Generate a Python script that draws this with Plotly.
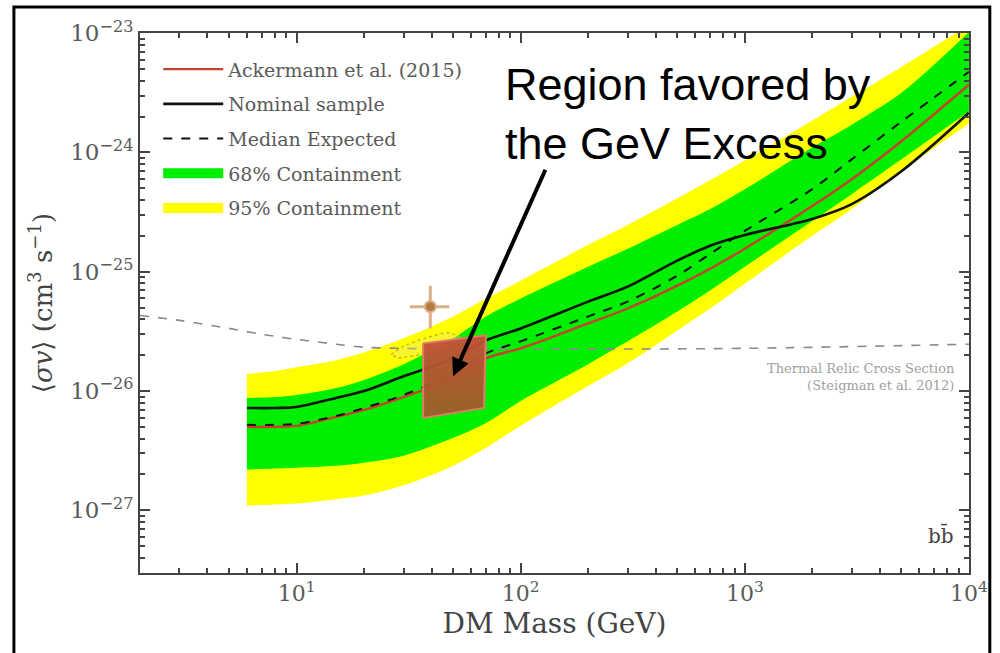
import math
import plotly.graph_objects as go

# ---------------- data ----------------
mass = [6, 8, 10, 15, 20, 30, 50, 70, 100, 200, 300, 500, 700, 1000, 2000, 3000, 5000, 10000]
band95_upper = [1.39e-26, 1.47e-26, 1.58e-26, 1.81e-26, 2.11e-26, 2.77e-26, 4.22e-26, 5.96e-26, 8.41e-26,
                1.68e-25, 2.47e-25, 4.14e-25, 5.85e-25, 8.57e-25, 1.85e-24, 2.93e-24, 5.21e-24, 1.17e-23]
band95_lower = [1.10e-27, 1.12e-27, 1.14e-27, 1.24e-27, 1.33e-27, 1.62e-27, 2.37e-27, 3.35e-27, 5.11e-27,
                1.10e-26, 1.71e-26, 3.22e-26, 4.92e-26, 7.94e-26, 2.00e-25, 3.35e-25, 6.95e-25, 1.75e-24]
band68_upper = [8.75e-27, 8.91e-27, 9.27e-27, 1.06e-26, 1.24e-26, 1.68e-26, 2.77e-26, 4.22e-26, 5.96e-26,
                1.10e-25, 1.56e-25, 2.47e-25, 3.35e-25, 4.92e-25, 1.10e-24, 1.71e-24, 3.16e-24, 1.02e-23]
band68_lower = [2.20e-27, 2.24e-27, 2.28e-27, 2.37e-27, 2.51e-27, 2.87e-27, 4.06e-27, 5.41e-27, 8.26e-27,
                1.68e-26, 2.61e-26, 4.64e-26, 6.95e-26, 1.10e-25, 2.66e-25, 4.47e-25, 8.75e-25, 2.20e-24]
nominal = [7.21e-27, 7.21e-27, 7.36e-27, 8.75e-27, 1.00e-26, 1.33e-26, 1.88e-26, 2.66e-26, 3.35e-26,
           5.62e-26, 7.50e-26, 1.24e-25, 1.65e-25, 2.03e-25, 2.77e-25, 3.69e-25, 6.95e-25, 2.15e-24]
median = [5.21e-27, 5.21e-27, 5.31e-27, 6.19e-27, 7.21e-27, 9.27e-27, 1.41e-26, 2.07e-26, 2.61e-26,
          4.22e-26, 5.62e-26, 9.27e-26, 1.41e-25, 2.20e-25, 4.92e-25, 8.75e-25, 1.81e-24, 4.73e-24]
ackermann = [5.01e-27, 5.01e-27, 5.11e-27, 6.07e-27, 6.95e-27, 8.91e-27, 1.28e-26, 1.88e-26, 2.28e-26,
             3.69e-26, 4.92e-26, 7.64e-26, 1.06e-25, 1.56e-25, 3.55e-25, 5.96e-25, 1.24e-24, 3.69e-24]

thermal_mass = [2, 3, 5, 7, 10, 15, 20, 30, 50, 100, 1000, 10000]
thermal_sigma = [4.30e-26, 3.91e-26, 3.35e-26, 2.99e-26, 2.71e-26, 2.47e-26, 2.33e-26, 2.28e-26,
                 2.24e-26, 2.24e-26, 2.28e-26, 2.47e-26]

# GeV-excess fit contour and best-fit point
contour_mass = [26.4, 29.9, 34.8, 42.8, 47.4, 53.5, 49.9, 42.8, 34.8, 28.4, 26.4]
contour_sigma = [2.03e-26, 2.37e-26, 2.66e-26, 2.99e-26, 3.10e-26, 2.87e-26, 2.47e-26, 2.20e-26,
                 2.00e-26, 1.88e-26, 2.03e-26]
excess_mass = [39.5]
excess_sigma = [5.1e-26]
excess_mass_err_plus = [8.5]
excess_mass_err_minus = [7.5]
excess_sigma_err_plus = [2.54e-26]
excess_sigma_err_minus = [1.75e-26]

# Region favored by the GeV excess (quadrilateral)
region_mass = [36.7, 69.9, 68.5, 36.7, 36.7]
region_sigma = [2.51e-26, 2.93e-26, 7.21e-27, 5.96e-27, 2.51e-26]
arrow_tip_mass = 49.9
arrow_tip_sigma = 1.33e-26

x_tickvals = [10, 100, 1000, 10000]
x_ticktext = ["10<sup>1</sup>", "10<sup>2</sup>", "10<sup>3</sup>", "10<sup>4</sup>"]
y_tickvals = [1e-27, 1e-26, 1e-25, 1e-24, 1e-23]
y_ticktext = ["10<sup>−27</sup>", "10<sup>−26</sup>", "10<sup>−25</sup>", "10<sup>−24</sup>", "10<sup>−23</sup>"]

SERIF = "DejaVu Serif"
GRAY = "#5a5a5a"
SPLINE = dict(shape="spline", smoothing=0.9)
YELLOW = "#ffff00"
GREEN = "#00ee00"

fig = go.Figure()

# 95% band (lower edge, then upper edge filled down to it)
fig.add_trace(go.Scatter(
    x=mass, y=band95_lower, mode="lines", line=dict(width=0, color=YELLOW, **SPLINE),
    showlegend=False, hoverinfo="skip"))
fig.add_trace(go.Scatter(
    x=mass, y=band95_upper, mode="lines", fill="tonexty", fillcolor=YELLOW,
    line=dict(width=0, color=YELLOW, **SPLINE), showlegend=False, hoverinfo="skip"))
# 68% band
fig.add_trace(go.Scatter(
    x=mass, y=band68_lower, mode="lines", line=dict(width=0, color=GREEN, **SPLINE),
    showlegend=False, hoverinfo="skip"))
fig.add_trace(go.Scatter(
    x=mass, y=band68_upper, mode="lines", fill="tonexty", fillcolor=GREEN,
    line=dict(width=0, color=GREEN, **SPLINE), showlegend=False, hoverinfo="skip"))

# legend swatches for the bands (wide filled boxes like the reference)
fig.add_trace(go.Scatter(x=[None], y=[None], mode="lines", line=dict(color=GREEN, width=16),
                         name="68% Containment", legendrank=4, legendgroup="d"))
fig.add_trace(go.Scatter(x=[None], y=[None], mode="lines", line=dict(color=YELLOW, width=16),
                         name="95% Containment", legendrank=5, legendgroup="e"))

fig.add_trace(go.Scatter(
    x=thermal_mass, y=thermal_sigma, mode="lines",
    line=dict(color="#8a8a8a", width=1.6, dash="dash", **SPLINE), showlegend=False))

fig.add_trace(go.Scatter(
    x=contour_mass, y=contour_sigma, mode="lines", fill="toself",
    fillcolor="rgba(230,230,120,0.35)", line=dict(color="#c9b820", width=1.5, dash="dot"),
    showlegend=False))

fig.add_trace(go.Scatter(
    x=mass, y=ackermann, mode="lines", line=dict(color="#c8412e", width=2.4, **SPLINE),
    name="Ackermann et al. (2015)", legendrank=1, legendgroup="a"))
fig.add_trace(go.Scatter(
    x=mass, y=nominal, mode="lines", line=dict(color="#111111", width=2.6, **SPLINE),
    name="Nominal sample", legendrank=2, legendgroup="b"))
fig.add_trace(go.Scatter(
    x=mass, y=median, mode="lines", line=dict(color="#111111", width=2, dash="dash", **SPLINE),
    name="Median Expected", legendrank=3, legendgroup="c"))

fig.add_trace(go.Scatter(
    x=excess_mass, y=excess_sigma, mode="markers",
    marker=dict(size=11, color="#b87a45", line=dict(color="#dcae85", width=2)),
    error_x=dict(type="data", symmetric=False, array=excess_mass_err_plus,
                 arrayminus=excess_mass_err_minus, color="#dcb08a", thickness=3, width=0),
    error_y=dict(type="data", symmetric=False, array=excess_sigma_err_plus,
                 arrayminus=excess_sigma_err_minus, color="#dcb08a", thickness=3, width=0),
    showlegend=False))

fig.add_trace(go.Scatter(
    x=region_mass, y=region_sigma, mode="lines", fill="toself",
    fillgradient=dict(type="vertical",
                      colorscale=[[0, "rgba(158,92,40,0.95)"], [1, "rgba(200,78,58,0.95)"]]),
    line=dict(color="#e4786a", width=2), showlegend=False))

axis_common = dict(
    type="log", showline=True, linecolor="#444444", linewidth=2, mirror="allticks",
    ticks="inside", ticklen=10, tickwidth=1.5, tickcolor="#444444", showgrid=False,
    zeroline=False, tickmode="array",
)

x_minor = [m * 10 ** k for k in range(0, 4) for m in range(2, 10) if m * 10 ** k >= 2]
y_minor = [m * 10.0 ** k for k in range(-28, -23) for m in range(2, 10)]

fig.update_xaxes(
    **axis_common, range=[math.log10(2), 4.0005], tickvals=x_tickvals, ticktext=x_ticktext,
    tickfont=dict(family=SERIF, size=22, color=GRAY),
    minor=dict(tickmode="array", tickvals=x_minor, ticks="inside", ticklen=5, tickcolor="#444444"),
    title=dict(text="DM Mass (GeV)", font=dict(family=SERIF, size=28, color="#444444"), standoff=8),
)
fig.update_yaxes(
    **axis_common, range=[-27.525, -22.999], tickvals=y_tickvals, ticktext=y_ticktext,
    tickfont=dict(family=SERIF, size=23, color=GRAY),
    minor=dict(tickmode="array", tickvals=y_minor, ticks="inside", ticklen=5, tickcolor="#444444"),
    title=dict(text="⟨<i>σv</i>⟩ (cm<sup>3</sup> s<sup>−1</sup>)",
               font=dict(family=SERIF, size=26, color="#444444"), standoff=10),
)

fig.update_layout(
    width=1000, height=653,
    margin=dict(l=140, r=25, t=33, b=80),
    paper_bgcolor="white", plot_bgcolor="white",
    legend=dict(x=0.022, y=0.968, xanchor="left", yanchor="top", bgcolor="rgba(0,0,0,0)",
                font=dict(family=SERIF, size=19, color=GRAY), itemwidth=60,
                traceorder="grouped", tracegroupgap=7),
    annotations=[
        dict(text="Region favored by<br>the GeV Excess", xref="paper", yref="paper",
             x=0.4383, y=0.955, xanchor="left", yanchor="top", align="left", showarrow=False,
             font=dict(family="Liberation Sans, Arial", size=45, color="black")),
        dict(text="", x=math.log10(arrow_tip_mass), y=math.log10(arrow_tip_sigma),
             xref="x", yref="y", showarrow=True, ax=93, ay=-208, arrowhead=2,
             arrowsize=0.9, arrowwidth=4, arrowcolor="black"),
        dict(text="Thermal Relic Cross Section<br>(Steigman et al. 2012)", xref="paper", yref="paper",
             x=0.985, y=0.363, xanchor="right", yanchor="middle", align="right", showarrow=False,
             font=dict(family=SERIF, size=13, color="#a0a0a0")),
        dict(text="bb̄", xref="paper", yref="paper", x=0.966, y=0.07, xanchor="center",
             yanchor="middle", showarrow=False, font=dict(family=SERIF, size=20, color="#444444")),
    ],
    shapes=[
        dict(type="rect", xref="paper", yref="paper", x0=-0.1521, x1=1.0251, y0=-0.3, y1=1.0481,
             line=dict(color="black", width=3), fillcolor="rgba(0,0,0,0)", layer="above"),
    ],
)

fig.write_html("out.html")
